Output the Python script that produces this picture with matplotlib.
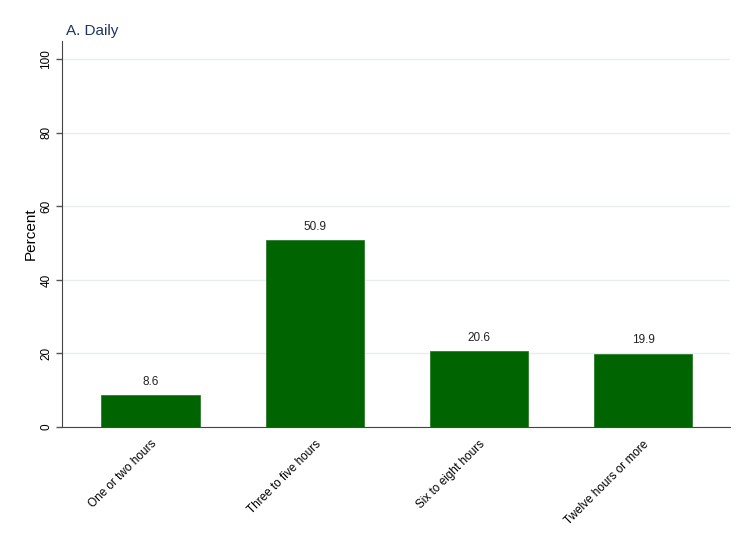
import matplotlib
matplotlib.use("Agg")
import matplotlib.pyplot as plt

categories = ["One or two hours", "Three to five hours", "Six to eight hours", "Twelve hours or more"]
values = [8.6, 50.9, 20.6, 19.9]
yticks = [0, 20, 40, 60, 80, 100]

plt.rcParams['font.family'] = ['Liberation Sans', 'DejaVu Sans']

fig = plt.figure(figsize=(7.5, 5.45), dpi=100)
ax = fig.add_axes([62/750, 1-427/545, (730-62)/750, (427-41)/545])

x = list(range(len(categories)))
bars = ax.bar(x, values, width=0.6, color="#006400", edgecolor="#2e7d2e", linewidth=0.6, zorder=3)
for xi, v in zip(x, values):
    ax.text(xi, v + 2.0, f"{v:.1f}", ha="center", va="bottom", fontsize=8.5, color="#222222")

ax.set_xlim(-0.54, 3.53)
ax.set_ylim(0, 105)
ax.set_yticks(yticks)
ax.set_yticklabels([str(t) for t in yticks], rotation=90, va="center", fontsize=8.5)
ax.set_xticks(x)
ax.set_xticklabels(categories, rotation=45, ha="right", rotation_mode="anchor", fontsize=8.5)
ax.tick_params(axis="x", length=0, pad=8)
ax.tick_params(axis="y", length=4, width=1, color="#555555", pad=3)
ax.grid(axis="y", color="#e6eeee", linewidth=1, zorder=0)
for s in ["top", "right"]:
    ax.spines[s].set_visible(False)
ax.spines["left"].set_color("#444444")
ax.spines["bottom"].set_color("#444444")
ax.set_ylabel("Percent", fontsize=11, labelpad=2)
ax.set_title("A. Daily", loc="left", fontsize=11, color="#1f3461", pad=4, x=0.006)

fig.savefig("out.png", dpi=100, facecolor="white")
